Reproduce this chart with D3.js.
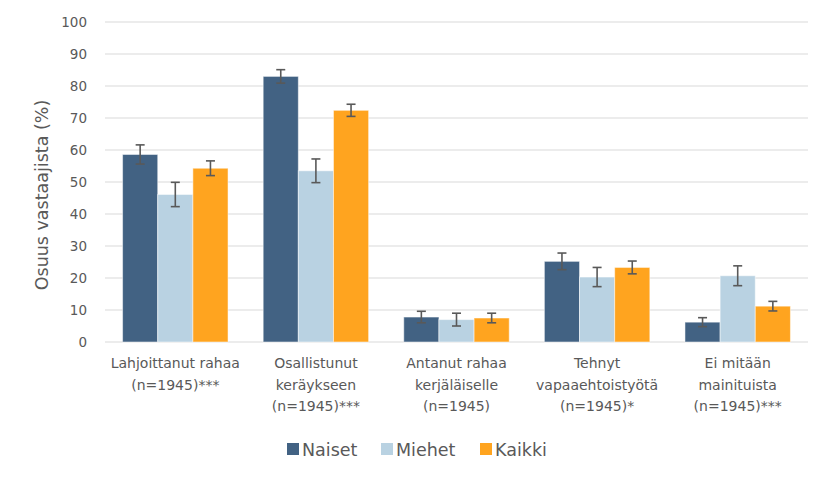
<!DOCTYPE html>
<html><head><meta charset="utf-8">
<script src="https://cdn.jsdelivr.net/npm/d3@7"></script>
<style>body{margin:0;background:#fff;} svg{display:block;font-family:"DejaVu Sans", sans-serif;}</style>
</head><body>
<svg id="c" width="827" height="483"></svg>
<script>
const categories = [
  ["Lahjoittanut rahaa", "(n=1945)***"],
  ["Osallistunut", "keräykseen", "(n=1945)***"],
  ["Antanut rahaa", "kerjäläiselle", "(n=1945)"],
  ["Tehnyt", "vapaaehtoistyötä", "(n=1945)*"],
  ["Ei mitään", "mainituista", "(n=1945)***"]
];
const seriesNames = ["Naiset", "Miehet", "Kaikki"];
const naiset = [58.6, 83.0, 7.8, 25.2, 6.2];
const miehet = [46.1, 53.5, 7.0, 20.3, 20.7];
const kaikki = [54.3, 72.4, 7.5, 23.3, 11.2];
const naisetErr = [3.0, 2.1, 1.8, 2.6, 1.4];
const miehetErr = [3.8, 3.7, 2.0, 3.0, 3.1];
const kaikkiErr = [2.3, 1.9, 1.5, 2.0, 1.5];
const yTicks = [0,10,20,30,40,50,60,70,80,90,100];
const colors = ["#426283", "#b9d2e2", "#ffa41f"];

const values = [naiset, miehet, kaikki];
const errs = [naisetErr, miehetErr, kaikkiErr];
const svg = d3.select("#c");
const m = {l:105, r:808, t:22, b:342};
const x = d3.scaleBand().domain(d3.range(categories.length)).range([m.l, m.r]).paddingInner(0.25).paddingOuter(0.125);
const xs = d3.scaleBand().domain(d3.range(seriesNames.length)).range([0, x.bandwidth()]);
const y = d3.scaleLinear().domain([0,100]).range([m.b, m.t]);

// gridlines
svg.append("g").selectAll("line").data(yTicks).join("line")
  .attr("x1", m.l).attr("x2", m.r).attr("y1", d=>y(d)).attr("y2", d=>y(d))
  .attr("stroke", "#d9d9d9").attr("stroke-width", 1);

// y axis labels
const ya = svg.append("g").attr("transform", `translate(${m.l},0)`)
  .call(d3.axisLeft(y).tickValues(yTicks).tickSize(0).tickPadding(18));
ya.select(".domain").remove();
ya.selectAll("text").attr("fill", "#595959").style("font-size", "13.5px").style("font-family", "'DejaVu Sans', sans-serif");

// axis title
svg.append("text").attr("transform", `translate(48,${(m.t+m.b)/2 + 13}) rotate(-90)`)
  .attr("text-anchor", "middle").attr("fill", "#595959").style("font-size", "17.5px")
  .text("Osuus vastaajista (%)");

// bars
const groups = svg.append("g").selectAll("g").data(seriesNames).join("g");
groups.each(function(s, si){
  const g = d3.select(this);
  g.selectAll("rect").data(values[si]).join("rect")
    .attr("x", (d,i)=>x(i)+xs(si)).attr("width", xs.bandwidth())
    .attr("y", d=>y(d)).attr("height", d=>y(0)-y(d))
    .attr("fill", colors[si]).attr("stroke", "rgba(255,255,255,0.5)").attr("stroke-width", 1);
});
// error bars
groups.each(function(s, si){
  const g = d3.select(this);
  values[si].forEach((v,i)=>{
    const cx = x(i)+xs(si)+xs.bandwidth()/2;
    const e = errs[si][i];
    const eg = g.append("g").attr("stroke", "#595959").attr("stroke-width", 1.6);
    eg.append("line").attr("x1", cx).attr("x2", cx).attr("y1", y(v+e)).attr("y2", y(v-e));
    eg.append("line").attr("x1", cx-4.5).attr("x2", cx+4.5).attr("y1", y(v+e)).attr("y2", y(v+e));
    eg.append("line").attr("x1", cx-4.5).attr("x2", cx+4.5).attr("y1", y(v-e)).attr("y2", y(v-e));
  });
});

// x labels
const xl = svg.append("g").selectAll("text").data(categories).join("text")
  .attr("x", (d,i)=>x(i)+x.bandwidth()/2).attr("y", 368)
  .attr("text-anchor", "middle").attr("fill", "#595959").style("font-size", "14px");
xl.selectAll("tspan").data(d=>d).join("tspan")
  .attr("x", function(){ return d3.select(this.parentNode).attr("x"); })
  .attr("dy", (d,i)=> i===0 ? 0 : 21.5).text(d=>d);

// legend
const legX = [287, 381, 480];
const lg = svg.append("g").selectAll("g").data(seriesNames).join("g")
  .attr("transform", (d,i)=>`translate(${legX[i]},449)`);
lg.append("rect").attr("x", 0).attr("y", -6).attr("width", 12).attr("height", 12).attr("fill", (d,i)=>colors[i]);
lg.append("text").attr("x", 15).attr("y", 6.5).attr("fill", "#595959").style("font-size", "17.5px").text(d=>d);
</script>
</body></html>
